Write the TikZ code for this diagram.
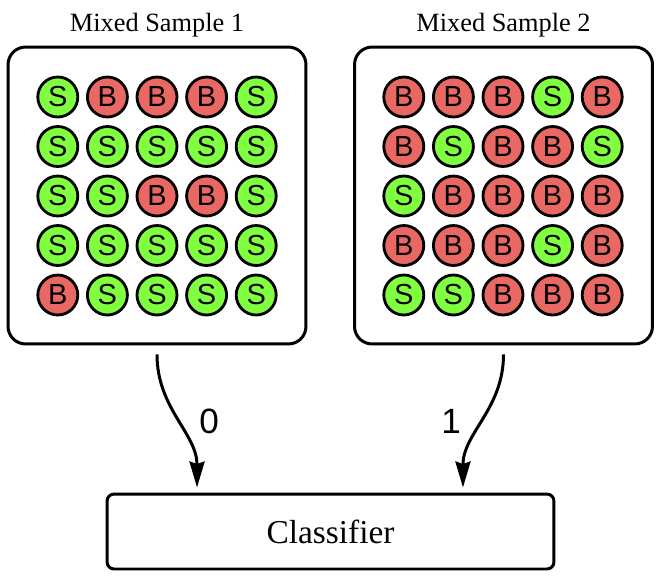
\documentclass[tikz,border=0pt]{standalone}
\usepackage{fontspec}
\setmainfont{Liberation Serif}
\setsansfont{Liberation Sans}
\usetikzlibrary{arrows.meta}

\definecolor{sigcol}{RGB}{128,255,64}
\definecolor{bkgcol}{RGB}{234,104,100}

\tikzset{
  samplebox/.style={draw,line width=1.7pt,rounded corners=10pt,minimum width=5.96cm,minimum height=5.94cm},
  ball/.style={circle,draw,line width=1.6pt,minimum size=0.8cm,inner sep=0pt,font=\sffamily\fontsize{16.5}{16.5}\selectfont},
  ballS/.style={ball,fill=sigcol},
  ballB/.style={ball,fill=bkgcol},
  flow/.style={line width=1.7pt,-{Stealth[length=0.52cm,width=0.3cm,inset=0.05cm]}},
}

\begin{document}
\begin{tikzpicture}[x=0.02cm,y=-0.02cm]
                \useasboundingbox (0,0) rectangle (660,576);
                \node[samplebox](box1)at(157,195.5){};
                \node[samplebox](box2)at(503.5,195.5){};
                \node[font=\fontsize{15}{18}\selectfont](title1)at(157,25){Mixed Sample 1};
                \node[font=\fontsize{15}{18}\selectfont](title2)at(503.5,25){Mixed Sample 2};
                % sample 1
                \foreach \row [count=\r] in {{S,B,B,B,S},{S,S,S,S,S},{S,S,B,B,S},{S,S,S,S,S},{B,S,S,S,S}}
                \foreach \l [count=\c] in \row
                \node[ball\l](a\r\c)at(157+49.6*\c-148.8,196+49.5*\r-148.5){\l};
                % sample 2
                \foreach \row [count=\r] in {{B,B,B,S,B},{B,S,B,B,S},{S,B,B,B,B},{B,B,B,S,B},{S,S,B,B,B}}
                \foreach \l [count=\c] in \row
                \node[ball\l](b\r\c)at(503+49.6*\c-148.8,196+49.5*\r-148.5){\l};
                \node[draw,line width=1.7pt,rounded corners=4pt,minimum width=8.94cm,minimum height=1.5cm,font=\fontsize{19}{22}\selectfont](clf)at(330.5,531.5){Classifier};
                \draw[flow]([yshift=-0.18cm]box1.south)to[out=-90,in=90]node[right=0.3cm,font=\sffamily\fontsize{20}{22}\selectfont]{0}([xshift=-2.67cm,yshift=0.1cm]clf.north);
                \draw[flow]([yshift=-0.18cm]box2.south)to[out=-90,in=90]node[left=0.3cm,font=\sffamily\fontsize{20}{22}\selectfont]{1}([xshift=2.65cm,yshift=0.1cm]clf.north);
                \end{tikzpicture}
\end{document}
